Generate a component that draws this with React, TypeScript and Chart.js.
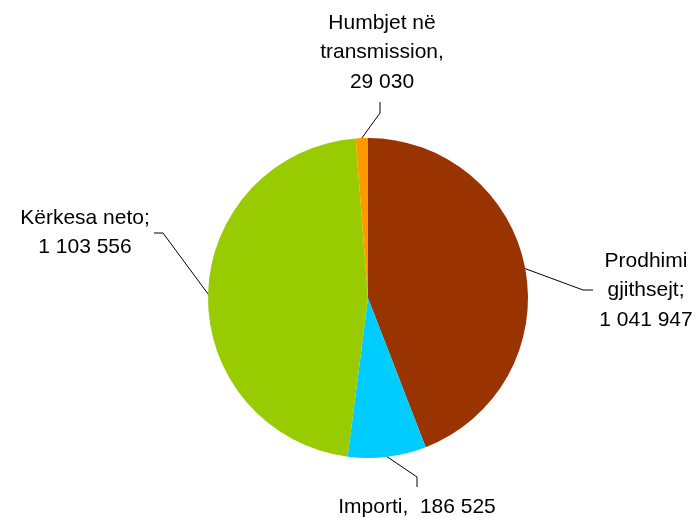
import React, { useEffect, useRef } from "react";
import { Chart, registerables } from "chart.js";

Chart.register(...registerables);

const categories = ["Prodhimi gjithsejt", "Importi", "Kërkesa neto", "Humbjet në transmission"];
const values = [1041947, 186525, 1103556, 29030];
const colors = ["#993300", "#00CCFF", "#99CC00", "#FF9900"];

const fmt = (v: number) => String(v).replace(/\B(?=(\d{3})+(?!\d))/g, " ");

const labelLines: string[][] = [
  ["Prodhimi", "gjithsejt;", fmt(values[0])],
  [`Importi,  ${fmt(values[1])}`],
  ["Kërkesa neto;", fmt(values[2])],
  ["Humbjet në", "transmission,", fmt(values[3])],
];

// label placement (layout only): elbow point, end point, text center x, first baseline y
const labelLayout = [
  { elbow: [583, 290], end: [593, 290], tx: 646, ty: 267 },
  { elbow: [417, 477], end: [417, 487], tx: 417, ty: 513 },
  { elbow: [163, 233], end: [154, 233], tx: 85, ty: 224 },
  { elbow: [380, 113], end: [380, 102], tx: 382, ty: 29 },
];

const FONT = "21px 'Liberation Sans', Arial, sans-serif";
const LINE_H = 29.3;

const labelPlugin = {
  id: "pieLabels",
  afterDatasetsDraw(chart: any) {
    const ctx = chart.ctx as CanvasRenderingContext2D;
    const meta = chart.getDatasetMeta(0);
    ctx.save();
    meta.data.forEach((arc: any, i: number) => {
      const { x, y, startAngle, endAngle, outerRadius } = arc.getProps(
        ["x", "y", "startAngle", "endAngle", "outerRadius"],
        true
      );
      const mid = (startAngle + endAngle) / 2;
      const px = x + Math.cos(mid) * outerRadius;
      const py = y + Math.sin(mid) * outerRadius;
      const lay = labelLayout[i];
      ctx.strokeStyle = "#000000";
      ctx.lineWidth = 1;
      ctx.beginPath();
      ctx.moveTo(px, py);
      ctx.lineTo(lay.elbow[0], lay.elbow[1]);
      ctx.lineTo(lay.end[0], lay.end[1]);
      ctx.stroke();
      ctx.fillStyle = "#000000";
      ctx.font = FONT;
      ctx.textAlign = "center";
      ctx.textBaseline = "alphabetic";
      labelLines[i].forEach((ln, j) => {
        ctx.fillText(ln, lay.tx, lay.ty + j * LINE_H);
      });
    });
    ctx.restore();
  },
};

export default function App() {
  const ref = useRef<HTMLCanvasElement | null>(null);
  useEffect(() => {
    if (!ref.current) return;
    const chart = new Chart(ref.current, {
      type: "pie",
      data: {
        labels: categories,
        datasets: [
          {
            data: values,
            backgroundColor: colors,
            borderWidth: 0,
          },
        ],
      },
      options: {
        responsive: false,
        animation: false,
        layout: { padding: { top: 138, bottom: 60, left: 208, right: 168 } },
        plugins: {
          legend: { display: false },
          tooltip: { enabled: false },
        },
      },
      plugins: [labelPlugin],
    });
    return () => chart.destroy();
  }, []);
  return (
    <div style={{ position: "absolute", left: 0, top: 0, width: 696, height: 518, background: "#ffffff" }}>
      <canvas ref={ref} width={696} height={518} style={{ width: 696, height: 518 }} />
    </div>
  );
}
